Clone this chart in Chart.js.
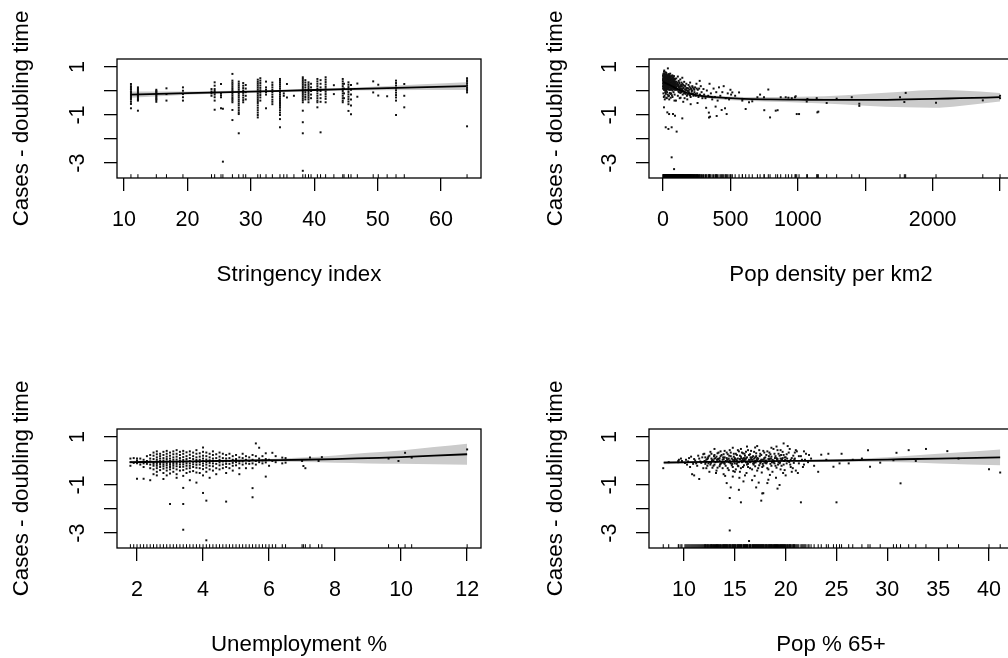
<!DOCTYPE html>
<html>
<head>
<meta charset="utf-8">
<script src="https://cdn.jsdelivr.net/npm/chart.js@4/dist/chart.umd.min.js"></script>
<style>
html, body { margin: 0; padding: 0; background: #fff; overflow: hidden; }
#figure { position: relative; width: 1008px; height: 658px; overflow: hidden; background: #fff; }
#figure canvas { position: absolute; }
</style>
</head>
<body>
<div id="figure">
  <canvas id="p1" width="532" height="288" style="left:0px;top:0px"></canvas>
  <canvas id="p2" width="532" height="288" style="left:532px;top:0px"></canvas>
  <canvas id="p3" width="532" height="288" style="left:0px;top:370px"></canvas>
  <canvas id="p4" width="532" height="288" style="left:532px;top:370px"></canvas>
</div>
<script>
// ---------- shared y axis ----------
const yTitle = 'Cases - doubling time';
const yTickValues = [-3, -2, -1, 0, 1];
const yTickLabels = ['-3', '', '-1', '', '1'];
const Y_MIN = -3.62;
const Y_MAX = 1.33;

// ---------- Stringency index ----------
// each entry: [index value, partial residuals observed at that value]
const stringencyColumns = [
  [11.1, [0.29, 0.2, 0.15, 0.08, 0.05, -0.02, -0.05, -0.1, -0.17, -0.22, -0.26, -0.31, -0.36, -0.45, -0.54, -0.72]],
  [12.2, [0.15, 0.1, 0.04, -0.02, -0.07, -0.12, -0.17, -0.22, -0.27, -0.32, -0.36, -0.4, -0.82]],
  [15.1, [0.05, 0.0, -0.04, -0.09, -0.13, -0.18, -0.23, -0.28, -0.33, -0.38, -0.45]],
  [16.7, [0.11, -0.13, -0.4]],
  [19.3, [0.15, 0.01, -0.13, -0.26, -0.4]],
  [23.8, [0.08, -0.02, -0.1, -0.2]],
  [24.3, [0.36, 0.22, 0.08, 0.0, -0.07, -0.15, -0.26, -0.4, -0.78]],
  [25.3, [0.29, -0.1, -0.18, -0.26, -0.72]],
  [25.6, [-0.74, -2.94]],
  [27.1, [0.71, 0.43, 0.35, 0.28, 0.2, 0.12, 0.05, -0.02, -0.1, -0.18, -0.26, -0.33, -0.4, -0.47, -0.79, -1.21]],
  [28.1, [0.39, 0.3, 0.22, 0.14, 0.06, -0.02, -0.1, -0.18, -0.26, -0.35, -0.43, -0.52, -0.6, -0.7, -0.8, -0.89, -0.96, -1.76]],
  [28.8, [0.33, 0.22, 0.12, 0.02, -0.08, -0.18, -0.28, -0.38, -0.47]],
  [29.2, [0.25, 0.1, -0.05, -0.2, -0.35]],
  [31.1, [0.47, 0.38, 0.3, 0.22, 0.14, 0.06, -0.02, -0.1, -0.18, -0.26, -0.34, -0.42, -0.5, -0.6, -0.7, -0.8, -0.9, -1.0, -1.1]],
  [31.5, [0.53, 0.43, 0.33, 0.23, 0.13, 0.03, -0.07, -0.17, -0.27, -0.4]],
  [32.4, [0.39, 0.15, 0.05, -0.05, -0.15, -0.72]],
  [33.4, [0.35, 0.25, 0.15, 0.05, -0.05, -0.15, -0.25, -0.36, -0.45, -0.55]],
  [34.6, [0.5, 0.42, 0.34, 0.26, 0.18, 0.1, 0.02, -0.06, -0.14, -0.22, -0.3, -0.38, -0.46, -0.54, -0.62, -0.7, -0.8, -0.9, -1.0, -1.17, -1.51]],
  [35.2, [-0.1, -0.2]],
  [35.7, [0.29, -0.27]],
  [36.8, [-0.2]],
  [38.2, [0.57, 0.5, 0.42, 0.35, 0.28, 0.2, 0.13, 0.06, -0.01, -0.08, -0.15, -0.22, -0.3, -0.38, -0.47, -0.82, -1.3, -1.76, -3.32]],
  [38.6, [0.45, 0.35, 0.25, 0.15, 0.05, -0.05, -0.15, -0.25, -0.35]],
  [39.1, [0.36, 0.28, 0.2, 0.12, 0.04, -0.04, -0.12, -0.2, -0.28, -0.36, -0.47]],
  [39.5, [0.3, 0.15, 0.0, -0.15, -0.3]],
  [40.5, [0.5, 0.4, 0.3, 0.2, 0.1, 0.0, -0.1, -0.2, -0.3, -0.4, -0.47, -0.68]],
  [41.0, [0.45, 0.3, 0.15, 0.0, -0.15, -0.3, -0.45, -1.72]],
  [41.8, [0.57, 0.47, 0.37, 0.27, 0.17, 0.07, -0.03, -0.13, -0.23, -0.33, -0.47]],
  [43.1, [0.24, -0.13]],
  [44.5, [0.5, 0.4, 0.3, 0.2, 0.1, 0.0, -0.1, -0.2, -0.3, -0.4, -0.47]],
  [44.7, [0.3, 0.1, -0.1, -0.3]],
  [45.4, [0.36, 0.26, 0.16, 0.06, -0.04, -0.14, -0.24, -0.34, -0.44, -0.55, -0.83]],
  [45.8, [0.25, 0.05, -0.15, -0.35, -0.6, -0.97]],
  [46.8, [0.31, -0.24]],
  [49.3, [0.4, -0.06]],
  [50.1, [0.26, -0.19]],
  [51.5, [-0.22]],
  [52.9, [0.43, 0.33, 0.23, 0.13, 0.03, -0.07, -0.17, -0.27, -0.4, -1.0]],
  [54.2, [0.29, -0.2, -0.68]],
  [64.1, [0.53, 0.45, 0.38, 0.3, 0.22, 0.15, 0.08, 0.01, -0.06, -1.47]]
];
const stringencyFitX = [11, 20, 30, 40, 50, 64];
const stringencyFit = [-0.15, -0.09, -0.025, 0.04, 0.11, 0.2];
const stringencyHalfWidth = [0.13, 0.07, 0.04, 0.04, 0.08, 0.16];
const stringencyTicks = [10, 20, 30, 40, 50, 60];
const stringencyTickLabels = ['10', '20', '30', '40', '50', '60'];

// ---------- Population density ----------
const densityPoints = [
  [1,0.62],[3,0.45],[4,0.3],[6,0.52],[8,0.18],[9,0.85],[11,0.4],[12,0.7],[14,0.25],[15,0.55],[17,0.05],[18,0.36],
  [20,0.6],[21,0.48],[23,0.12],[24,0.75],[26,0.3],[27,0.5],[29,0.42],[30,-0.05],[32,0.65],[33,0.22],[35,0.38],[36,0.94],
  [38,0.55],[39,0.15],[41,0.46],[42,0.3],[44,0.68],[45,0.05],[47,0.4],[48,0.58],[50,0.2],[51,0.33],[53,0.72],[54,0.1],
  [56,0.48],[57,0.26],[59,0.6],[60,-0.1],[62,0.36],[63,0.52],[65,0.16],[66,0.44],[68,0.28],[69,0.65],[71,0.02],[72,0.38],
  [74,0.55],[75,0.2],[77,0.3],[78,0.46],[80,0.1],[81,0.62],[83,0.25],[84,0.4],[86,-0.15],[87,0.33],[89,0.5],
  [2,0.3],[3,0.15],[5,0.7],[6,0.55],[8,0.05],[9,0.42],[11,0.28],[12,0.62],[14,0.1],[15,0.48],[17,0.35],[18,0.78],
  [20,0.2],[21,0.45],[23,0.0],[24,0.58],[26,0.32],[27,0.68],[29,0.22],[30,0.15],[32,0.52],[33,0.4],[35,0.6],[36,0.08],
  [38,0.3],[39,0.46],[41,0.7],[42,0.25],[44,-0.2],[45,0.42],[47,0.56],[48,0.18],[50,0.35],[51,0.64],[53,0.05],[54,0.28],
  [56,0.5],[57,0.4],[59,0.12],[60,0.32],
  [1,0.5],[4,0.1],[7,0.8],[9,0.35],[12,0.2],[15,0.68],[18,0.5],[21,0.3],[24,0.4],[27,0.05],[30,0.6],[33,0.25],[36,0.55],
  [39,0.35],[42,0.62],[45,0.2],[48,0.5],[51,0.42],[54,0.15],[57,0.58],[60,0.22],[63,0.48],[66,0.62],[69,0.1],[72,0.42],
  [75,0.3],[78,0.55],[81,0.18],[84,0.35],[87,0.05],[90,0.28],
  [2,0.4],[5,0.36],[7,0.58],[10,0.48],[13,0.66],[16,0.42],[19,0.56],[22,0.38],[25,0.64],[28,0.34],[31,0.44],[34,0.5],
  [37,0.28],[40,0.52],[43,0.38],[46,0.3],[49,0.44],[52,0.25],[55,0.36],[58,0.45],
  [0,0.45],[0,0.2],[0,0.65],[1,0.1],[2,0.55],[3,0.32],[4,0.72],[5,0.22],[6,0.4],[7,0.12],[8,0.6],[9,0.26],[10,0.05],
  [10,0.38],[11,0.58],[12,0.4],[13,0.15],[14,0.5],[15,0.3],[16,0.62],[17,0.2],[18,0.42],[19,0.1],[20,0.35],[21,0.58],
  [22,0.05],[23,0.45],[24,0.25],[25,0.5],[26,0.1],[27,0.38],[28,0.55],[29,0.15],[30,0.32],[31,0.62],[32,0.08],[33,0.45],
  [34,0.28],[35,0.15],[36,0.42],[37,0.6],[38,0.12],[40,0.3],[41,0.2],[43,0.5],[44,0.32],[46,0.45],[47,0.15],[49,0.28],
  [50,0.48],[52,0.38],[53,0.18],[55,0.52],[56,0.1],[58,0.3],[59,0.4],[61,0.25],[62,0.05],[64,0.42],[65,0.3],[67,0.12],
  [68,0.5],[70,0.25],[71,0.38],[73,0.15],[74,0.32],[76,0.45],[77,0.08],[79,0.3],[80,0.42],[82,0.12],[83,0.5],[85,0.22],
  [86,0.35],[88,0.1],[89,0.2],[91,0.32],[93,0.05],[94,0.25],[97,0.38],[99,0.12],[102,0.2],[105,0.3],[108,0.08],[111,0.25],
  [114,-0.02],[117,0.15],[120,0.35],[123,0.05],[126,0.2],[129,-0.08],[132,0.1],[135,0.25],[138,-0.05],[141,0.08],[144,0.3],
  [147,0.0],[152,0.15],[156,-0.1],[160,0.22],[164,0.05],[168,-0.12],[172,0.12],[176,0.02],[183,-0.15],[187,0.1],[192,-0.05],
  [196,0.05],[200,-0.18],[204,0.12],[210,-0.1],[215,0.02],[220,0.15],[226,-0.2],[232,0.05],[240,-0.12],[250,0.1],
  [3,-0.1],[11,-0.2],[16,-0.05],[24,-0.28],[35,-0.15],[46,-0.35],[55,-0.12],[70,-0.25],[85,-0.4],[110,-0.2],[130,-0.28],[160,-0.3],
  [6,-0.25],[13,-0.35],[21,-0.12],[28,-0.3],[39,-0.22],[50,-0.08],[57,-0.28],[66,-0.18],[78,-0.05],
  [7,-0.68],[32,-0.89],[45,-0.96],[74,-0.96],[89,-1.03],[20,-1.51],[40,-1.58],[64,-1.51],[101,-1.69],[64,-2.76],[82,-3.25],[143,-1.14],
  [92,0.4],[95,0.15],[98,0.52],[101,0.28],[104,0.05],[107,0.35],[110,0.6],[113,0.2],[116,0.42],[119,-0.05],[122,0.3],
  [125,0.12],[128,0.48],[131,0.22],[134,0.0],[137,0.35],[140,0.18],[143,0.55],[146,-0.15],[149,0.25],[153,0.1],[157,0.38],
  [161,-0.05],[165,0.2],[169,0.05],[173,0.3],[177,-0.2],[181,0.12],[185,0.0],[189,0.25],[193,-0.1],[197,0.18],[201,0.35],
  [205,-0.25],[209,0.08],[213,-0.02],[217,0.2],[222,-0.12],[228,0.1],[96,-0.4],[124,-0.3],[150,-0.45],[180,-0.35],[205,-0.55],
  [233,-0.05],[238,0.15],[243,-0.2],[248,0.3],[253,-0.1],[258,0.05],[263,-0.25],[268,0.1],[274,-0.15],[280,0.2],[286,-0.05],
  [292,-0.3],[256,-0.5],[272,0.42],
  [300,0.08],[305,-0.15],[315,-0.3],[325,0.02],[335,-0.2],[341,-1.1],[345,0.3],[355,-0.1],[365,-0.35],[349,-1.07],[375,0.1],
  [385,-0.25],[395,-0.05],[398,-1.04],[405,-0.4],[415,0.15],[425,-0.2],[435,-0.79],[440,-0.05],[450,0.2],[460,-0.72],
  [465,-0.3],[472,-0.96],[480,-0.1],[490,-0.35],[500,0.05],[505,-0.15],[514,-0.06],[320,-0.7],[340,-0.9],[390,-0.65],
  [535,-0.2],[564,-0.06],[589,-0.33],[588,-0.4],[613,-0.75],[638,-0.47],[662,-0.43],[700,-0.26],[720,-0.15],[749,-0.26],
  [751,-0.8],[781,0.06],[794,-1.1],[836,-0.82],[850,-0.8],[873,-0.26],[910,-0.26],[930,-0.28],[955,-0.3],[979,-0.26],
  [984,-0.22],[992,-0.96],[1009,-0.96],[1066,-0.44],[1071,-0.33],[1140,-0.3],[1145,-0.89],[1152,-0.86],
  [1214,-0.5],[1288,-0.32],[1400,-0.26],[1456,-0.53],[1456,-0.62],[1758,-0.26],[1790,-0.46],[1800,-0.08],[2025,-0.49],
  [2372,-0.39],[2500,-0.2],[2500,-0.3]
];
const densityFitX = [0, 50, 100, 150, 200, 300, 400, 600, 800, 1000, 1200, 1500, 1800, 2000, 2200, 2500];
const densityFit = [0.38, 0.25, 0.1, -0.02, -0.12, -0.22, -0.27, -0.33, -0.35, -0.36, -0.37, -0.37, -0.35, -0.33, -0.3, -0.26];
const densityHalfWidth = [0.12, 0.07, 0.06, 0.06, 0.06, 0.06, 0.07, 0.08, 0.1, 0.12, 0.15, 0.24, 0.33, 0.37, 0.32, 0.18];
const densityTicks = [0, 500, 1000, 1500, 2000, 2500];
const densityTickLabels = ['0', '500', '1000', '', '2000', ''];

// ---------- Unemployment ----------
const unemploymentColumns = [
  [1.8, [0.1, -0.05, -0.2]],
  [1.9, [0.12, -0.08]],
  [2.0, [0.1, 0.02, -0.1, -0.74]],
  [2.1, [0.1, -0.05, -0.15]],
  [2.2, [0.05, -0.1, -0.25, -0.74]],
  [2.3, [0.2, 0.0, -0.12]],
  [2.4, [0.25, 0.1, -0.02, -0.15, -0.3, -0.8]],
  [2.5, [0.35, 0.22, 0.08, -0.05, -0.12, -0.2, -0.35, -0.55]],
  [2.6, [0.4, 0.28, 0.15, 0.05, -0.05, -0.12, -0.2, -0.3, -0.45, -0.6]],
  [2.7, [0.3, 0.2, 0.1, 0.0, -0.08, -0.15, -0.25, -0.38]],
  [2.8, [0.38, 0.25, 0.12, 0.02, -0.06, -0.14, -0.22, -0.32, -0.5, -0.75]],
  [2.9, [0.42, 0.3, 0.18, 0.08, -0.02, -0.1, -0.18, -0.28, -0.4, -0.6]],
  [3.0, [0.35, 0.22, 0.1, 0.0, -0.08, -0.16, -0.25, -0.35, -0.52, -1.79]],
  [3.1, [0.4, 0.28, 0.15, 0.05, -0.05, -0.12, -0.2, -0.3, -0.45]],
  [3.2, [0.45, 0.3, 0.18, 0.06, -0.04, -0.12, -0.22, -0.35, -0.55, -0.7]],
  [3.3, [0.38, 0.25, 0.12, 0.02, -0.06, -0.15, -0.25, -0.4]],
  [3.4, [0.42, 0.3, 0.16, 0.04, -0.05, -0.14, -0.24, -0.38, -0.62, -1.12, -1.79, -2.86]],
  [3.5, [0.36, 0.2, 0.08, -0.02, -0.1, -0.2, -0.32, -0.5]],
  [3.6, [0.4, 0.26, 0.12, 0.0, -0.1, -0.2, -0.3, -0.45, -0.8]],
  [3.7, [0.35, 0.2, 0.08, -0.04, -0.14, -0.25, -0.42]],
  [3.8, [0.45, 0.3, 0.15, 0.04, -0.06, -0.16, -0.28, -0.48, -0.9]],
  [3.9, [0.32, 0.18, 0.05, -0.05, -0.15, -0.3, -0.5]],
  [4.0, [0.56, 0.38, 0.22, 0.1, 0.0, -0.1, -0.2, -0.34, -0.6, -1.33]],
  [4.1, [0.35, 0.2, 0.06, -0.05, -0.15, -0.28, -0.45, -1.65, -3.3]],
  [4.2, [0.3, 0.15, 0.03, -0.08, -0.2, -0.35, -0.7]],
  [4.3, [0.4, 0.25, 0.1, 0.0, -0.1, -0.22, -0.4]],
  [4.4, [0.28, 0.12, 0.0, -0.12, -0.3, -0.55]],
  [4.5, [0.35, 0.18, 0.05, -0.06, -0.18, -0.35]],
  [4.6, [0.3, 0.12, -0.02, -0.15, -0.3]],
  [4.7, [0.25, 0.1, -0.02, -0.12, -0.25, -0.5, -1.69]],
  [4.8, [0.3, 0.12, 0.0, -0.12, -0.3]],
  [4.9, [0.2, 0.05, -0.08, -0.2, -0.4]],
  [5.0, [0.25, 0.08, -0.05, -0.18]],
  [5.1, [0.15, 0.0, -0.1, -0.3, -0.55]],
  [5.2, [0.3, 0.12, -0.02, -0.15]],
  [5.3, [0.2, 0.05, -0.1, -0.3]],
  [5.4, [0.15, 0.0, -0.12]],
  [5.5, [0.25, 0.05, -0.1, -0.3, -1.13, -1.51]],
  [5.6, [0.73, 0.2, 0.0, -0.15]],
  [5.7, [0.55, 0.1, -0.05]],
  [5.8, [0.2, 0.02, -0.1]],
  [5.9, [0.32, 0.08, -0.06, -0.65]],
  [6.0, [0.05, -0.2]],
  [6.1, [0.34, 0.0]],
  [6.2, [0.2, -0.05]],
  [6.4, [0.14, -0.1]],
  [6.5, [0.12, -0.07]],
  [7.0, [0.0]],
  [7.04, [-0.21]],
  [7.1, [-0.3]],
  [7.24, [0.14]],
  [7.5, [0.0]],
  [7.6, [0.16]],
  [9.62, [0.1]],
  [9.92, [0.0]],
  [10.12, [0.34]],
  [10.32, [0.14]],
  [12.0, [0.48]]
];
const unemploymentFitX = [1.8, 3, 4, 5, 6, 7, 8, 9, 10, 11, 12];
const unemploymentFit = [-0.05, -0.03, -0.01, 0.01, 0.03, 0.05, 0.08, 0.12, 0.16, 0.22, 0.28];
const unemploymentHalfWidth = [0.06, 0.04, 0.03, 0.04, 0.05, 0.09, 0.15, 0.22, 0.28, 0.36, 0.44];
const unemploymentTicks = [2, 4, 6, 8, 10, 12];
const unemploymentTickLabels = ['2', '4', '6', '8', '10', '12'];

// ---------- Population aged 65+ ----------
const elderlyPoints = [
  [7.96,-0.3],[8.5,-0.05],[9.44,0.0],[9.44,-0.05],[9.5,0.05],[9.7,0.1],[9.8,0.0],[10.1,-0.08],[10.3,-0.15],[10.5,0.12],
  [10.6,-0.25],[10.8,-0.55],[11.0,-0.6],[11.0,0.08],[11.2,-0.1],[11.4,0.22],[11.5,-0.75],[11.6,-0.02],[11.8,0.15],[11.9,-0.3],
  [12.0,0.3],[12.1,-0.12],[12.2,0.05],[12.3,-0.2],[12.4,0.18],[12.5,-0.05],[12.6,0.38],[12.7,0.1],[12.8,-0.28],[12.9,0.02],
  [13.0,0.25],[13.0,-0.15],[13.1,0.12],[13.2,-0.4],[13.3,0.32],[13.3,-0.02],[13.4,0.08],[13.5,-0.22],[13.6,0.2],[13.6,0.4],
  [13.7,-0.08],[13.8,0.05],[13.9,-0.55],[13.9,0.28],[14.0,-0.12],[14.0,0.15],
  [14.1,0.0],[14.2,-0.92],[14.2,0.35],[14.3,-0.3],[14.4,0.1],[14.4,-0.05],[14.5,0.45],[14.5,-1.54],[14.5,-2.89],[14.6,-1.1],
  [14.6,0.2],[14.7,-0.18],[14.8,0.05],[14.8,-0.65],[14.9,0.3],[15.0,-0.1],[15.0,0.12],[15.1,-0.35],[15.2,0.25],[15.2,0.02],
  [15.3,-0.2],[15.4,-1.2],[15.4,0.4],[15.5,0.08],[15.5,-0.45],[15.6,-1.72],[15.6,0.18],[15.7,-0.05],[15.8,0.32],[15.8,-0.25],
  [15.9,0.0],[16.0,0.22],[16.0,-0.6],
  [16.1,0.1],[16.2,-0.15],[16.3,0.45],[16.4,-3.33],[16.4,0.05],[16.5,-0.3],[16.5,0.28],[16.6,-0.02],[16.7,0.15],[16.7,-0.8],
  [16.8,-0.1],[16.9,0.38],[17.0,0.56],[17.0,0.0],[17.1,-1.1],[17.1,0.2],[17.2,-0.4],[17.3,0.1],[17.4,-0.18],[17.5,0.3],
  [17.6,-1.65],[17.6,0.05],[17.7,-1.35],[17.7,-0.25],[17.8,-1.34],[17.8,0.42],[17.9,0.12],[18.0,-0.08],
  [18.1,0.25],[18.2,-0.92],[18.2,-0.3],[18.3,-0.78],[18.3,0.08],[18.4,0.35],[18.5,-0.12],[18.6,0.18],[18.7,-0.45],[18.8,0.02],
  [18.9,0.3],[19.0,-0.2],[19.1,0.12],[19.2,-1.15],[19.2,0.45],[19.3,-0.05],[19.4,-1.0],[19.4,0.22],[19.5,-0.35],[19.6,0.05],
  [19.7,0.38],[19.8,0.73],[19.8,-0.15],[19.9,0.15],[20.0,-0.6],
  [20.1,0.28],[20.2,0.0],[20.4,0.5],[20.5,-0.25],[20.6,0.12],[20.8,-0.08],[20.9,0.35],[21.0,-0.4],[21.2,-0.5],[21.3,0.2],
  [21.5,-1.72],[21.6,0.05],[21.8,-0.15],[22.0,0.3],[22.2,-0.05],
  [14.3,0.05],[14.9,-0.02],[15.3,0.1],[15.7,0.0],[16.1,-0.05],[16.6,0.08],[17.2,0.02],[17.9,-0.03],[18.4,0.06],[13.5,0.02],
  [14.6,-0.1],[15.9,0.12],[16.9,-0.08],[17.5,0.0],[18.8,-0.06],[19.5,0.1],[13.8,-0.05],[16.3,-0.12],[15.1,0.06],[17.0,0.15],
  [10.2,0.05],[10.4,-0.02],[10.7,0.18],[10.9,-0.12],[11.1,0.02],[11.3,-0.2],[11.5,0.1],[11.7,-0.08],[11.9,0.28],[12.0,-0.02],
  [12.1,0.15],[12.2,-0.3],[12.3,0.08],[12.4,-0.1],[12.5,0.22],[12.6,-0.15],[12.7,0.3],[12.8,0.05],[12.9,-0.2],[13.0,0.1],
  [13.1,-0.05],[13.2,0.18],[13.3,-0.28],[13.4,0.35],[13.5,0.12],[13.6,-0.12],[13.7,0.25],[13.8,-0.3],[13.9,0.08],[14.0,0.42],
  [14.1,-0.2],[14.2,0.12],[14.3,0.28],[14.4,-0.38],[14.5,0.02],[14.6,0.35],[14.7,0.1],[14.8,-0.25],[14.9,0.18],[15.0,-0.45],
  [15.1,0.3],[15.2,-0.12],[15.3,0.45],[15.4,-0.05],[15.5,0.22],[15.6,-0.3],[15.7,0.35],[15.8,0.08],[15.9,-0.18],[16.0,0.05],
  [16.1,0.38],[16.2,0.15],[16.3,-0.25],[16.4,0.25],[16.5,-0.05],[16.6,0.42],[16.7,-0.35],[16.8,0.2],[16.9,0.1],[17.0,-0.22],
  [17.1,0.32],[17.2,0.12],[17.3,-0.3],[17.4,0.45],[17.5,-0.1],[17.6,0.25],[17.7,0.05],[17.8,-0.2],[17.9,0.35],[18.0,0.15],
  [18.1,-0.1],[18.2,0.4],[18.3,-0.35],[18.4,0.1],[18.5,0.28],[18.6,-0.2],[18.7,0.05],[18.8,0.5],[18.9,-0.1],[19.0,0.2],
  [19.1,-0.28],[19.2,0.08],[19.3,0.3],[19.4,-0.1],[19.5,0.45],[19.6,-0.2],[19.7,0.12],[19.8,0.25],[19.9,-0.38],[20.0,0.15],
  [20.1,-0.1],[20.3,0.35],[20.5,0.05],[20.7,-0.3],[20.9,0.1],[21.1,0.4],[21.3,-0.1],[21.5,0.2],[21.7,-0.25],[21.9,0.05],
  [12.05,0.0],[12.35,0.12],[12.65,-0.08],[12.95,0.2],[13.25,0.05],[13.55,-0.15],[13.85,0.15],[14.15,-0.02],[14.45,0.22],[14.75,-0.12],
  [15.05,0.08],[15.35,-0.22],[15.65,0.12],[15.95,0.3],[16.25,-0.08],[16.55,0.15],[16.85,-0.15],[17.15,0.05],[17.45,0.2],[17.75,-0.12],
  [18.05,0.02],[18.35,0.2],[18.65,-0.05],[18.95,0.12],[19.25,-0.15],[19.55,0.25],[19.85,0.0],[20.15,0.1],[20.45,-0.15],[20.75,0.22],
  [13.15,-0.5],[14.05,-0.62],[14.85,-0.42],[15.45,-0.7],[16.15,-0.5],[16.95,-0.62],[17.65,-0.48],[18.45,-0.58],[19.05,-0.7],
  [19.75,-0.5],[20.6,-0.45],[15.85,-0.85],[17.35,-0.9],[12.5,-0.45],
  [13.0,0.5],[14.8,0.55],[15.6,0.5],[16.2,0.6],[17.2,0.62],[18.6,0.55],[19.1,0.6],[20.2,0.62],[21.0,0.45],[21.8,0.4],[22.3,0.25],
  [12.15,-0.05],[12.75,0.02],[13.35,0.08],[13.95,-0.08],[14.25,0.06],[14.55,-0.06],[14.95,0.04],[15.25,-0.04],[15.55,0.06],
  [15.85,-0.02],[16.05,0.1],[16.45,-0.02],[16.75,0.05],[17.05,-0.06],[17.25,0.08],[17.55,-0.04],[17.85,0.06],[18.15,-0.05],
  [18.55,0.1],[18.85,-0.02],[19.15,0.05],[19.45,-0.06],[19.65,0.08],[19.95,0.04],[20.35,-0.04],[20.85,0.06],
  [22.5,0.1],[22.8,-0.2],[23.2,-0.45],[23.5,0.26],[24.0,0.05],[24.2,0.3],[24.7,-0.24],[25.0,-1.72],[25.3,-0.1],[25.5,0.3],
  [26.2,-0.1],[26.6,0.05],[27.5,0.1],[28.1,0.45],[28.3,-0.24],[29.3,-0.07],[30.6,0.03],[30.9,0.34],[31.3,-0.93],[32.1,0.45],
  [32.8,0.0],[33.8,0.5],[35.9,0.41],[37.0,0.1],[40.0,-0.34],[41.1,-0.48]
];
const elderlyFitX = [8, 12, 16, 20, 25, 30, 35, 41.1];
const elderlyFit = [-0.07, -0.04, -0.02, 0.0, 0.02, 0.06, 0.1, 0.15];
const elderlyHalfWidth = [0.07, 0.04, 0.03, 0.03, 0.05, 0.1, 0.2, 0.33];
const elderlyTicks = [10, 15, 20, 25, 30, 35, 40];
const elderlyTickLabels = ['10', '15', '20', '25', '30', '35', '40'];

// ---------- drawing ----------
const FONT_FAMILY = "'Liberation Sans', Arial, Helvetica, sans-serif";
const tickFont = { family: FONT_FAMILY, size: 21.5, lineHeight: 1 };
const titleFont = { family: FONT_FAMILY, size: 22.3, lineHeight: 1 };
const BAND_COLOR = '#cbcbcb';

function fromColumns(cols) {
  const out = [];
  cols.forEach(([x, ys]) => ys.forEach(y => out.push({ x, y })));
  return out;
}
function fromPairs(pairs) { return pairs.map(([x, y]) => ({ x, y })); }
function rugOf(points) { return [...new Set(points.map(p => p.x))].sort((a, b) => a - b); }

// frame around the plotting region
const framePlugin = {
  id: 'frame',
  afterDatasetsDraw(chart) {
    const { ctx, chartArea: a } = chart;
    ctx.save();
    ctx.strokeStyle = '#000';
    ctx.lineWidth = 1.3;
    ctx.strokeRect(a.left, a.top, a.right - a.left, a.bottom - a.top);
    ctx.restore();
  }
};

function buildPanel(id, p) {
  const lower = p.fitX.map((x, i) => ({ x, y: p.fit[i] - p.half[i] }));
  const upper = p.fitX.map((x, i) => ({ x, y: p.fit[i] + p.half[i] }));
  const fitLine = p.fitX.map((x, i) => ({ x, y: p.fit[i] }));
  const rug = rugOf(p.points).map(x => ({ x, y: Y_MIN }));
  const tickGrid = { display: true, drawOnChartArea: false, drawTicks: true, tickLength: 13, color: '#000', lineWidth: 1.3 };

  new Chart(document.getElementById(id), {
    type: 'scatter',
    data: {
      datasets: [
        { type: 'line', label: 'lower', data: lower, borderColor: 'rgba(0,0,0,0)', borderWidth: 0,
          pointRadius: 0, fill: false, cubicInterpolationMode: 'monotone', order: 5 },
        { type: 'line', label: 'upper', data: upper, borderColor: 'rgba(0,0,0,0)', borderWidth: 0,
          pointRadius: 0, fill: '-1', backgroundColor: BAND_COLOR, cubicInterpolationMode: 'monotone', order: 4 },
        { type: 'scatter', label: 'rug', data: rug, pointStyle: 'line', pointRotation: 90, pointRadius: 3.8,
          pointBorderColor: '#000', pointBorderWidth: 1, clip: 0, order: 3 },
        { type: 'scatter', label: 'residuals', data: p.points, pointStyle: 'rect', pointRadius: 1.4,
          pointBackgroundColor: '#111', pointBorderWidth: 0, order: 2 },
        { type: 'line', label: 'fit', data: fitLine, borderColor: '#000', borderWidth: 1.8, pointRadius: 0,
          fill: false, cubicInterpolationMode: 'monotone', order: 1 }
      ]
    },
    options: {
      responsive: false,
      animation: false,
      events: [],
      layout: { padding: { left: 0, top: 59, right: 51, bottom: 0 } },
      plugins: { legend: { display: false }, tooltip: { enabled: false } },
      scales: {
        x: {
          type: 'linear', min: p.xMin, max: p.xMax, bounds: 'data',
          afterBuildTicks: s => { s.ticks = p.ticks.map(v => ({ value: v })); },
          afterFit: s => { s.height = 110; },
          ticks: { autoSkip: false, minRotation: 0, maxRotation: 0, padding: 18.75, color: '#000', font: tickFont,
                   callback: (v, i) => p.tickLabels[i] },
          grid: tickGrid,
          border: { display: false },
          title: { display: true, text: p.title, color: '#000', font: titleFont, padding: { top: 0, bottom: 2.35 } }
        },
        y: {
          type: 'linear', min: Y_MIN, max: Y_MAX, bounds: 'data',
          afterBuildTicks: s => { s.ticks = yTickValues.map(v => ({ value: v })); },
          afterFit: s => { s.width = 117; },
          ticks: { autoSkip: false, minRotation: 90, maxRotation: 90, crossAlign: 'center', padding: 16.5,
                   color: '#000', font: tickFont, callback: (v, i) => yTickLabels[i] },
          grid: tickGrid,
          border: { display: false },
          title: { display: true, text: yTitle, color: '#000', font: titleFont, padding: { top: p.yTitlePad, bottom: 0 } }
        }
      }
    },
    plugins: [framePlugin]
  });
}

buildPanel('p1', {
  points: fromColumns(stringencyColumns), fitX: stringencyFitX, fit: stringencyFit, half: stringencyHalfWidth,
  ticks: stringencyTicks, tickLabels: stringencyTickLabels, xMin: 8.9, xMax: 66.3,
  title: 'Stringency index', yTitlePad: 10.85
});
buildPanel('p2', {
  points: fromPairs(densityPoints), fitX: densityFitX, fit: densityFit, half: densityHalfWidth,
  ticks: densityTicks, tickLabels: densityTickLabels, xMin: -104, xMax: 2596,
  title: 'Pop density per km2', yTitlePad: 12.85
});
buildPanel('p3', {
  points: fromColumns(unemploymentColumns), fitX: unemploymentFitX, fit: unemploymentFit, half: unemploymentHalfWidth,
  ticks: unemploymentTicks, tickLabels: unemploymentTickLabels, xMin: 1.394, xMax: 12.42,
  title: 'Unemployment %', yTitlePad: 10.85
});
buildPanel('p4', {
  points: fromPairs(elderlyPoints), fitX: elderlyFitX, fit: elderlyFit, half: elderlyHalfWidth,
  ticks: elderlyTicks, tickLabels: elderlyTickLabels, xMin: 6.56, xMax: 42.36,
  title: 'Pop % 65+', yTitlePad: 12.85
});
</script>
</body>
</html>
